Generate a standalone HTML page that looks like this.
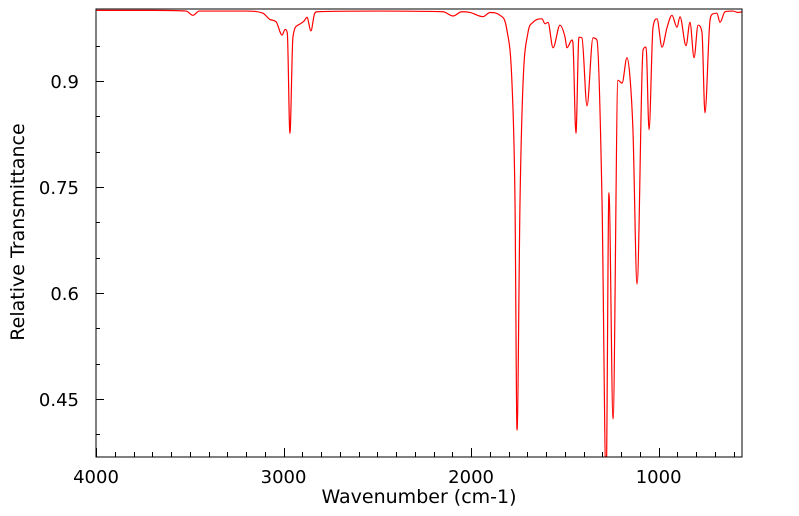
<!DOCTYPE html>
<html><head><meta charset="utf-8"><style>
html,body{margin:0;padding:0;background:#fff;}
svg{display:block;font-family:"DejaVu Sans","Liberation Sans",sans-serif;}
</style></head><body>
<svg id="chart" width="799" height="516">
<defs><clipPath id="clip"><rect x="96" y="9" width="646" height="448"/></clipPath></defs>
<g id="ticks"></g>
<path id="spectrum" fill="none" stroke="#ff0000" stroke-width="1.2" clip-path="url(#clip)"/>
<rect x="96" y="9" width="646" height="448" fill="none" stroke="#000" stroke-width="1"/>
<text x="419" y="503" font-size="19" text-anchor="middle">Wavenumber (cm-1)</text>
<text transform="translate(24,232) rotate(-90)" font-size="19" text-anchor="middle">Relative Transmittance</text>
</svg>
<script>
const wavenumbers=[4000,3700,3520,3483,3450,3200,3110,3072,3040,3008,2992,2980,2966,2950,2923,2890,2875,2854,2835,2822,2500,2150,2096,2050,2006,1937,1899,1846,1809,1782,1766,1755,1739,1723,1697,1670,1622,1606,1590,1563,1526,1499,1489,1462,1457,1441,1425,1409,1382,1350,1329,1302,1280,1265,1243,1217,1195,1169,1153,1137,1115,1083,1067,1051,1030,1009,982,955,929,902,886,854,833,811,790,769,753,726,710,689,673,646,604,577,555];
const transmittance=[1.0,1.0,0.999,0.993,0.999,0.999,0.996,0.987,0.984,0.965,0.973,0.968,0.826,0.962,0.979,0.985,0.990,0.971,0.995,0.998,0.999,0.998,0.992,0.998,0.997,0.991,0.997,0.993,0.972,0.897,0.732,0.406,0.732,0.897,0.968,0.983,0.988,0.981,0.983,0.947,0.979,0.962,0.947,0.958,0.954,0.826,0.962,0.961,0.865,0.961,0.958,0.732,0.33,0.742,0.422,0.901,0.897,0.933,0.906,0.831,0.613,0.944,0.948,0.831,0.976,0.988,0.948,0.976,0.993,0.976,0.991,0.950,0.983,0.933,0.979,0.969,0.855,0.986,0.995,0.996,0.983,0.998,0.999,0.997,0.998];
const xTickLabels=[4000,3000,2000,1000];
const yTickLabels=[0.9,0.75,0.6,0.45];
const X0=96,X1=742,Y0=9,Y1=457;
const xMax=4000,xMin=555.5,yMax=1.0019,yMin=0.368;
function sx(v){return X0+(xMax-v)/(xMax-xMin)*(X1-X0);}
function sy(v){return Y0+(yMax-v)/(yMax-yMin)*(Y1-Y0);}
const NS='http://www.w3.org/2000/svg';
const tg=document.getElementById('ticks');
function line(x1,y1,x2,y2){const l=document.createElementNS(NS,'line');l.setAttribute('x1',x1);l.setAttribute('y1',y1);l.setAttribute('x2',x2);l.setAttribute('y2',y2);l.setAttribute('stroke','#000');l.setAttribute('stroke-width','1');


tg.appendChild(l);}
for(let w=4000;w>=xMin;w-=100){const x=Math.round(sx(w))+0.5;const major=w%1000===0;line(x,Y1,x,Y1-(major?9:5));}
for(let k=0;k<=12;k++){const v=0.4+k*0.05;if(v>yMax||v<yMin)continue;const y=Math.round(sy(v))+0.5;const major=yTickLabels.some(t=>Math.abs(t-v)<1e-6);line(X0,y,X0+(major?8:4),y);}
xTickLabels.forEach(v=>{const t=document.createElementNS(NS,'text');t.setAttribute('x',sx(v));t.setAttribute('y',Y1+26);t.setAttribute('font-size','18');t.setAttribute('text-anchor','middle');t.textContent=v;


tg.appendChild(t);});
yTickLabels.forEach(v=>{const t=document.createElementNS(NS,'text');t.setAttribute('x',X0-17);t.setAttribute('y',sy(v)+7);t.setAttribute('font-size','18');t.setAttribute('text-anchor','end');t.textContent=v;


tg.appendChild(t);});
const px=wavenumbers.map(sx),py=transmittance.map(sy);const n=px.length;
const d=[],m=new Array(n);
for(let i=0;i<n-1;i++)d.push((py[i+1]-py[i])/(px[i+1]-px[i]));
m[0]=d[0];m[n-1]=d[n-2];
for(let i=1;i<n-1;i++){m[i]=(d[i-1]*d[i]<=0)?0:(d[i-1]+d[i])/2;}
for(let i=0;i<n-1;i++){if(d[i]===0){m[i]=0;m[i+1]=0;continue;}const a=m[i]/d[i],b=m[i+1]/d[i],s=a*a+b*b;if(s>9){const t=3/Math.sqrt(s);m[i]=t*a*d[i];m[i+1]=t*b*d[i];}}
let p='M'+px[0]+','+py[0];
for(let i=0;i<n-1;i++){const h=(px[i+1]-px[i])/3;p+=' C'+(px[i]+h)+','+(py[i]+m[i]*h)+' '+(px[i+1]-h)+','+(py[i+1]-m[i+1]*h)+' '+px[i+1]+','+py[i+1];}
document.getElementById('spectrum').setAttribute('d',p);
</script>
</body></html>
